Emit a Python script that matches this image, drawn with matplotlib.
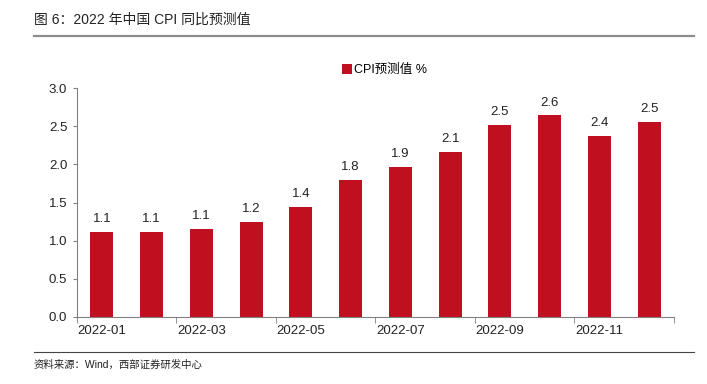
import matplotlib.pyplot as plt

plt.rcParams['font.family'] = ['Liberation Sans', 'Noto Sans CJK SC']

# 数据
months = ['2022-01', '2022-02', '2022-03', '2022-04', '2022-05', '2022-06',
          '2022-07', '2022-08', '2022-09', '2022-10', '2022-11', '2022-12']
cpi_forecast = [1.12, 1.11, 1.15, 1.24, 1.44, 1.79, 1.96, 2.16, 2.51, 2.64, 2.37, 2.55]
value_labels = ['1.1', '1.1', '1.1', '1.2', '1.4', '1.8', '1.9', '2.1', '2.5', '2.6', '2.4', '2.5']
yticks = [0.0, 0.5, 1.0, 1.5, 2.0, 2.5, 3.0]

red = '#C0101F'
grey = '#808080'

fig = plt.figure(figsize=(7.07, 3.84), dpi=100)
ax = fig.add_axes([0.1089, 0.1745, 0.8444, 0.5963])

x = list(range(len(months)))
bars = ax.bar(x, cpi_forecast, width=0.46, color=red, label='CPI预测值 %')
for b, lab in zip(bars, value_labels):
    ax.annotate(lab, (b.get_x() + b.get_width() / 2, b.get_height()),
                xytext=(0, 5), textcoords='offset points',
                ha='center', va='bottom', fontsize=9.5, color='#222222')

ax.set_xlim(-0.5, len(months) - 0.5)
ax.set_ylim(0, 3.0)
ax.set_yticks(yticks)
ax.set_yticklabels([f'{v:.1f}' for v in yticks])

# x轴: 每隔一个月标注, 刻度线在分界处
ax.set_xticks(x[::2])
ax.set_xticklabels(months[::2])
ax.set_xticks([i - 0.5 for i in range(0, len(months) + 1, 2)], minor=True)
ax.tick_params(axis='x', which='major', length=0, pad=6)
ax.tick_params(axis='x', which='minor', length=4, color=grey, direction='out')
ax.tick_params(axis='y', length=3, color=grey, direction='out', pad=4)
ax.tick_params(labelsize=9.5, labelcolor='#222222')

for s in ['top', 'right']:
    ax.spines[s].set_visible(False)
for s in ['left', 'bottom']:
    ax.spines[s].set_color(grey)
    ax.spines[s].set_linewidth(0.8)

ax.legend(loc='lower center', bbox_to_anchor=(0.515, 1.03), frameon=False,
          fontsize=9, handlelength=0.8, handleheight=0.8, handletextpad=0.2,
          borderaxespad=0)

# 标题和来源
fig.text(34 / 707, 1 - 20 / 384, '图 6：2022 年中国 CPI 同比预测值', fontsize=10,
         va='center', ha='left', color='#222222')
fig.add_artist(plt.Line2D([34 / 707, 694 / 707], [1 - 36 / 384, 1 - 36 / 384],
                          color='#8c8c8c', linewidth=1.6))
fig.add_artist(plt.Line2D([34 / 707, 694 / 707], [1 - 352 / 384, 1 - 352 / 384],
                          color='#444444', linewidth=0.8))
fig.text(34 / 707, 1 - 365 / 384, '资料来源：Wind，西部证券研发中心', fontsize=7.5,
         va='center', ha='left', color='#222222')

fig.savefig('out.png', dpi=100)
